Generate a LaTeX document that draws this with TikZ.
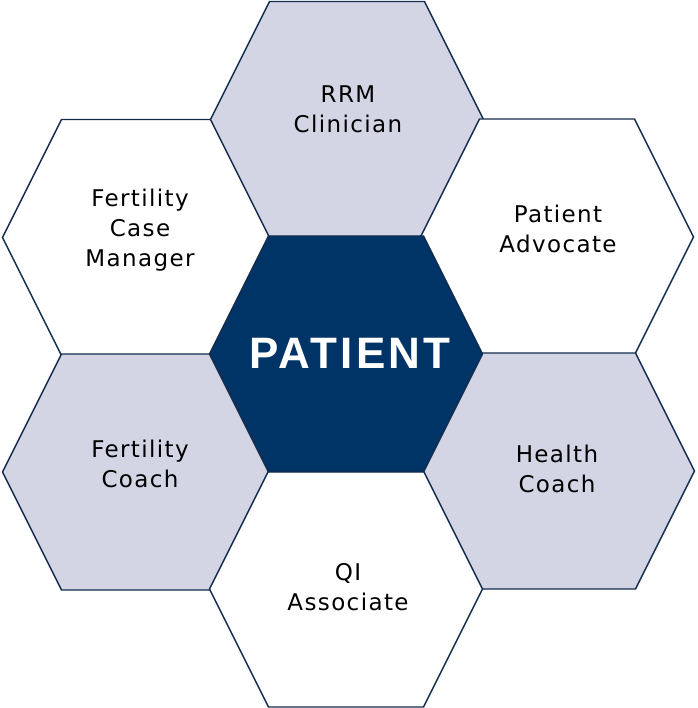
\documentclass[tikz,border=0pt]{standalone}
\usepackage{fontspec}
\setmainfont{DejaVu Sans}[LetterSpace=6]
\newfontfamily\boldsans{Liberation Sans}[LetterSpace=7.5]
\definecolor{navy}{RGB}{0,51,102}
\definecolor{lav}{RGB}{211,213,229}
\definecolor{edgec}{RGB}{18,44,78}
\newcommand\hexshape[4]{%
  \filldraw[hexbox,fill=#4] (#2-136.5,#3) -- (#2-77.5,#3-118) -- (#2+77.5,#3-118)
    -- (#2+136.5,#3) -- (#2+77.5,#3+118) -- (#2-77.5,#3+118) -- cycle;
  \coordinate (#1) at (#2,#3);}
\begin{document}
\begin{tikzpicture}[x=1pt,y=-1pt,
  hexbox/.style={draw=edgec, line width=1.4pt, line join=miter},
  lbl/.style={align=center, text=black, inner sep=0pt,
    font=\fontsize{23}{30}\selectfont},
  bigl/.style={text=white, inner sep=0pt, font=\boldsans\bfseries\fontsize{44}{50}\selectfont}]
\useasboundingbox (0,0) rectangle (697,708);
\hexshape{hUL}{139}{237.5}{white}
\hexshape{hLL}{139}{472}{lav}
\hexshape{hT}{347}{119.5}{lav}
\hexshape{hUR}{557}{237}{white}
\hexshape{hLR}{558}{471}{lav}
\hexshape{hB}{346}{589}{white}
\hexshape{hC}{346}{354}{navy}
\node[lbl] (rrm) at (348,109.3) {RRM\\Clinician};
\node[lbl] (fcm) at (140,230.5) {Fertility\\Case\\Manager};
\node[lbl] (pa) at (558,228.5) {Patient\\Advocate};
\node[lbl] (fc) at (140,464) {Fertility\\Coach};
\node[lbl] (hc) at (557,468.5) {Health\\Coach};
\node[lbl] (qi) at (348,587.3) {QI\\Associate};
\node[bigl] (pat) at (350,353) {PATIENT};
\end{tikzpicture}
\end{document}
